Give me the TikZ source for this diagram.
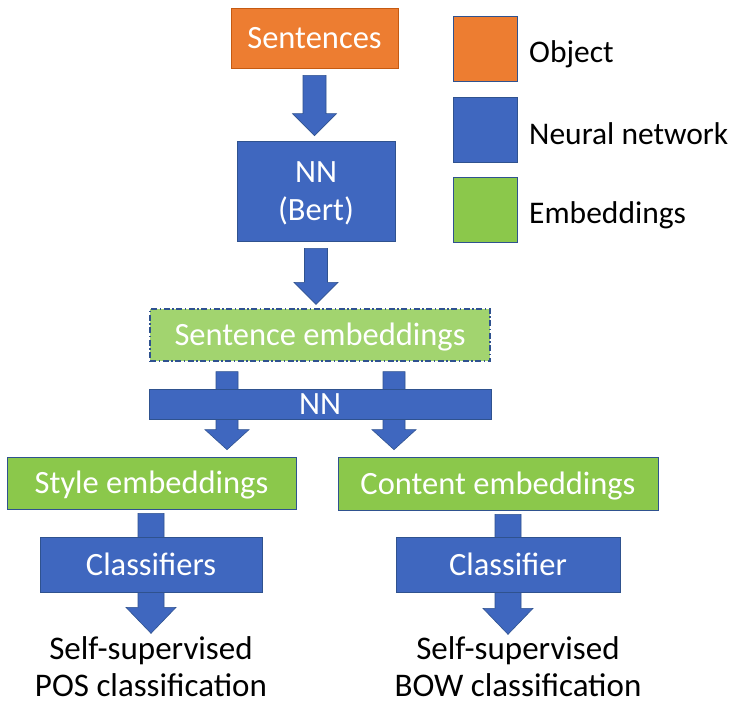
\documentclass[tikz,border=0pt]{standalone}
\usepackage{fontspec}
\setmainfont{Carlito}
\usetikzlibrary{calc}
\pgfdeclarelayer{background}
\pgfdeclarelayer{paper}
\pgfsetlayers{paper,background,main}
\definecolor{orng}{HTML}{ED7D31}
\definecolor{orngb}{HTML}{C55A11}
\definecolor{nnb}{HTML}{3F67BF}
\definecolor{nnbd}{HTML}{2F528F}
\definecolor{grn}{HTML}{8BC84B}
\definecolor{lgrn}{HTML}{A2D46F}
\newcommand\blkarrow[5]{%
  \path[arr] let \p1=(#1), \p2=(#2) in
    (\x1-#3,\y1) -- (\x1+#3,\y1) -- (\x1+#3,\y2+#5) -- (\x1+#4,\y2+#5)
    -- (\x1,\y2) -- (\x1-#4,\y2+#5) -- (\x1-#3,\y2+#5) -- cycle;}
\tikzset{
  txt/.style={font=\fontsize{32.5}{38}\selectfont, inner sep=0pt, text height=21pt, text depth=0pt},
  box/.style={txt, draw=nnbd, line width=0.7pt, text=white, align=center},
  objbox/.style={box, fill=orng, draw=orngb},
  nnbox/.style={box, fill=nnb},
  embbox/.style={box, fill=grn},
  arr/.style={fill=nnb, draw=nnbd, line width=0.6pt},
  legsq/.style={draw=nnbd, line width=0.7pt, minimum width=64pt, minimum height=65pt, inner sep=0pt},
  legtxt/.style={txt, font=\fontsize{31.5}{38}\selectfont, anchor=west, text height=20pt},
  outtxt/.style={txt, font=\fontsize{33}{37}\selectfont, align=center, text height=58pt, text depth=0pt}
}
\begin{document}
\begin{tikzpicture}[x=1pt,y=-1pt]
\begin{pgfonlayer}{paper}
\useasboundingbox[fill=white] (0,0) rectangle (739,705);
\end{pgfonlayer}
% main chain
\node[objbox, minimum width=167pt, minimum height=60pt] (snt) at (314.5,38) {Sentences};
\node[nnbox, minimum width=158pt, minimum height=100pt, text height=58pt, text depth=0pt] (bert) at (316,191) {NN\\(Bert)};
\node[embbox, fill=lgrn, dash pattern=on 6pt off 2.5pt on 1.5pt off 2.5pt, line width=1.3pt,
      minimum width=340pt, minimum height=52pt] (se) at (320,335) {Sentence embeddings};
\node[nnbox, minimum width=342pt, minimum height=30pt] (nn) at (320,404) {NN};
\node[embbox, minimum width=289pt, minimum height=52pt] (sty) at (151.5,483) {Style embeddings};
\node[embbox, minimum width=320pt, minimum height=53pt] (cnt) at (498,483.5) {Content embeddings};
\node[nnbox, minimum width=222pt, minimum height=55pt] (cls) at (151,564.5) {Classifiers};
\node[nnbox, minimum width=224pt, minimum height=55pt] (clr) at (508,564.5) {Classifier};
\node[outtxt] (pos) at (151,667) {Self-supervised\\POS classification};
\node[outtxt] (bow) at (518,667) {Self-supervised\\BOW classification};
% legend
\node[legsq, fill=orng] (lo) at (485,49) {};
\node[legsq, fill=nnb] (ln) at (485,130) {};
\node[legsq, fill=grn] (le) at (485,210) {};
\node[legtxt] (lot) at (529,52) {Object};
\node[legtxt] (lnt) at (529,134) {Neural network};
\node[legtxt] (let) at (529,213) {Embeddings};
% arrows
\blkarrow{[yshift=-7pt]snt.south}{[yshift=5pt]bert.north}{11.5pt}{22pt}{22pt}
\blkarrow{[yshift=-7pt]bert.south}{[yshift=4pt]se.north}{11.5pt}{22pt}{22pt}
\begin{pgfonlayer}{background}
\coordinate (la) at ([xshift=-93pt,yshift=-10pt]se.south);
\coordinate (ra) at ([xshift=74pt,yshift=-10pt]se.south);
\blkarrow{la}{[yshift=7pt]sty.north}{11pt}{22pt}{20pt}
\blkarrow{ra}{[yshift=7pt]cnt.north}{11pt}{22pt}{20pt}
\coordinate (lb) at (cls.north |- sty.south);
\coordinate (rb) at (clr.north |- cnt.south);
\blkarrow{[yshift=-4pt]lb}{[yshift=-41pt]cls.south}{13pt}{25pt}{26pt}
\blkarrow{[yshift=-4pt]rb}{[yshift=-42pt]clr.south}{13pt}{25pt}{26pt}
\end{pgfonlayer}
\end{tikzpicture}
\end{document}
